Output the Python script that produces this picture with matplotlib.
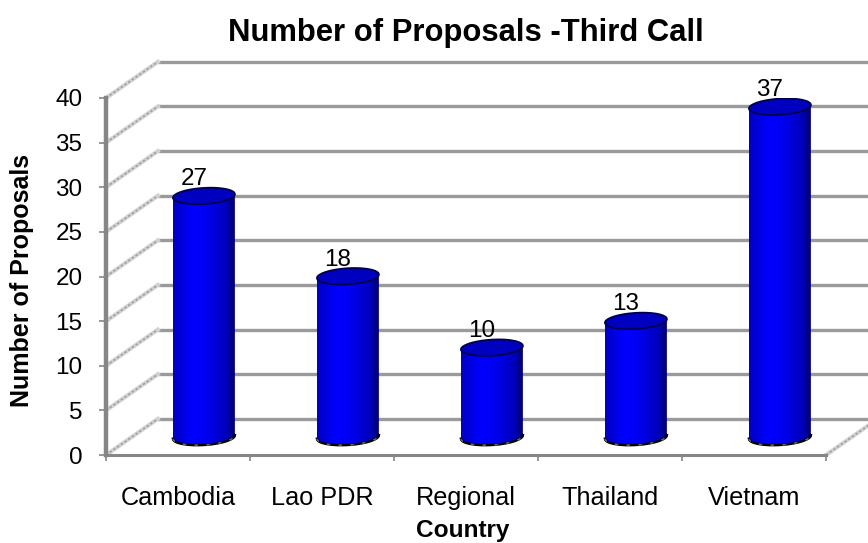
import numpy as np
import matplotlib
matplotlib.use("Agg")
import matplotlib.pyplot as plt
from matplotlib.colors import LinearSegmentedColormap
from matplotlib.patches import PathPatch
from matplotlib.path import Path

# Chart data
countries = ["Cambodia", "Lao PDR", "Regional", "Thailand", "Vietnam"]
proposals = [27, 18, 10, 13, 37]
y_ticks = [0, 5, 10, 15, 20, 25, 30, 35, 40]

# Fake 3D geometry, in data units
DEPTH_X = 0.36
DEPTH_Y = 4.05
BAR_HALF_W = 0.215
BAR_HALF_H = 0.9
BAR_TILT = 0.2

AXIS_GRAY = "#868686"
GRID_GRAY = "#9a9a9a"
FONT = "Liberation Sans"

plt.rcParams["font.family"] = FONT

fig = plt.figure(figsize=(8.68, 5.43), dpi=100)
ax = fig.add_axes([106 / 868, 1 - 455 / 543, 720 / 868, 357 / 543])
ax.set_xlim(0, len(countries))
ax.set_ylim(0, 40)
ax.patch.set_alpha(0)

bar_cmap = LinearSegmentedColormap.from_list(
    "cyl", [(0, "#0000c0"), (0.3, "#0000ff"), (0.55, "#0000f0"), (0.85, "#0000c0"), (1, "#000070")])

# Back wall gridlines and the depth lines on the left wall
for tick in y_ticks:
    ax.plot([DEPTH_X, len(countries) + DEPTH_X], [tick + DEPTH_Y] * 2, color=GRID_GRAY,
            lw=2.4, clip_on=False, zorder=1, solid_capstyle="butt")
    ax.plot([0, DEPTH_X], [tick, tick + DEPTH_Y], color="#d4d4d4", lw=3, clip_on=False, zorder=1)
    ax.plot([0, DEPTH_X], [tick, tick + DEPTH_Y], color="#a0a0a0", lw=1.2, ls=(0, (1.5, 1.2)),
            clip_on=False, zorder=1)

# Floor edge on the right
ax.plot([len(countries), len(countries) + DEPTH_X], [0, DEPTH_Y], color="#d4d4d4", lw=3,
        clip_on=False, zorder=1)
ax.plot([len(countries), len(countries) + DEPTH_X], [0, DEPTH_Y], color="#a0a0a0", lw=1.2,
        ls=(0, (1.5, 1.2)), clip_on=False, zorder=1)

# Cylinders
t_low = np.linspace(np.pi, 2 * np.pi, 40)
t_top = np.linspace(0, np.pi, 40)
t_full = np.linspace(0, 2 * np.pi, 80)


def ring(cx, cy, t):
    return (cx + BAR_HALF_W * np.cos(t),
            cy + BAR_HALF_H * np.sin(t) + BAR_TILT * np.cos(t))


for i, value in enumerate(proposals):
    cx = i + 0.5 + DEPTH_X / 2
    base = DEPTH_Y / 2
    top = value + DEPTH_Y / 2

    lx, ly = ring(cx, base, t_low)
    ux, uy = ring(cx, top, t_top)
    body = PathPatch(Path(np.column_stack([np.concatenate([lx, ux]), np.concatenate([ly, uy])])),
                     transform=ax.transData, fc="none", ec="none")
    ax.add_patch(body)
    im = ax.imshow(np.linspace(0, 1, 128).reshape(1, -1), cmap=bar_cmap, aspect="auto",
                   extent=[cx - BAR_HALF_W, cx + BAR_HALF_W, base - 2, top + 2], zorder=3)
    im.set_clip_path(body)

    # Bottom rim
    ax.plot(lx, ly, color="black", lw=1.8, zorder=4)
    ax.plot(lx, ly, color="#707070", lw=1.0, ls=(0, (2.5, 6)), zorder=5)
    # Top face
    fx, fy = ring(cx, top, t_full)
    ax.fill(fx, fy, fc="#0000c0", ec="#00004a", lw=1.3, zorder=4)

    ax.text(cx - 0.07, top + 1.85, str(value), ha="center", va="center", fontsize=17.5,
            color="black", zorder=6)

ax.set_xlim(0, len(countries))
ax.set_ylim(0, 40)

# Axes
for side in ["top", "right"]:
    ax.spines[side].set_visible(False)
ax.spines["left"].set_color(AXIS_GRAY)
ax.spines["left"].set_linewidth(3.2)
ax.spines["bottom"].set_color(AXIS_GRAY)
ax.spines["bottom"].set_linewidth(2.2)

ax.set_yticks(y_ticks)
ax.set_yticklabels([str(t) for t in y_ticks], fontsize=17.5)
ax.set_xticks(np.arange(len(countries) + 1))
ax.set_xticklabels([])
ax.set_xticks(np.arange(len(countries)) + 0.5, minor=True)
ax.set_xticklabels(countries, minor=True, fontsize=18.2)
ax.tick_params(axis="y", color=AXIS_GRAY, width=1.2, length=5, pad=12)
ax.tick_params(axis="x", which="major", color=AXIS_GRAY, width=1.2, length=4)
ax.tick_params(axis="x", which="minor", length=0, pad=22)

fig.text(466 / 868, 1 - 33 / 543, "Number of Proposals -Third Call", ha="center", va="center",
         fontsize=22.3, fontweight="bold")
fig.text(463 / 868, 1 - 531 / 543, "Country", ha="center", va="center",
         fontsize=17.6, fontweight="bold")
fig.text(22 / 868, 1 - 280 / 543, "Number of Proposals", ha="center", va="center",
         rotation=90, fontsize=18, fontweight="bold")

fig.savefig("out.png", dpi=100)
